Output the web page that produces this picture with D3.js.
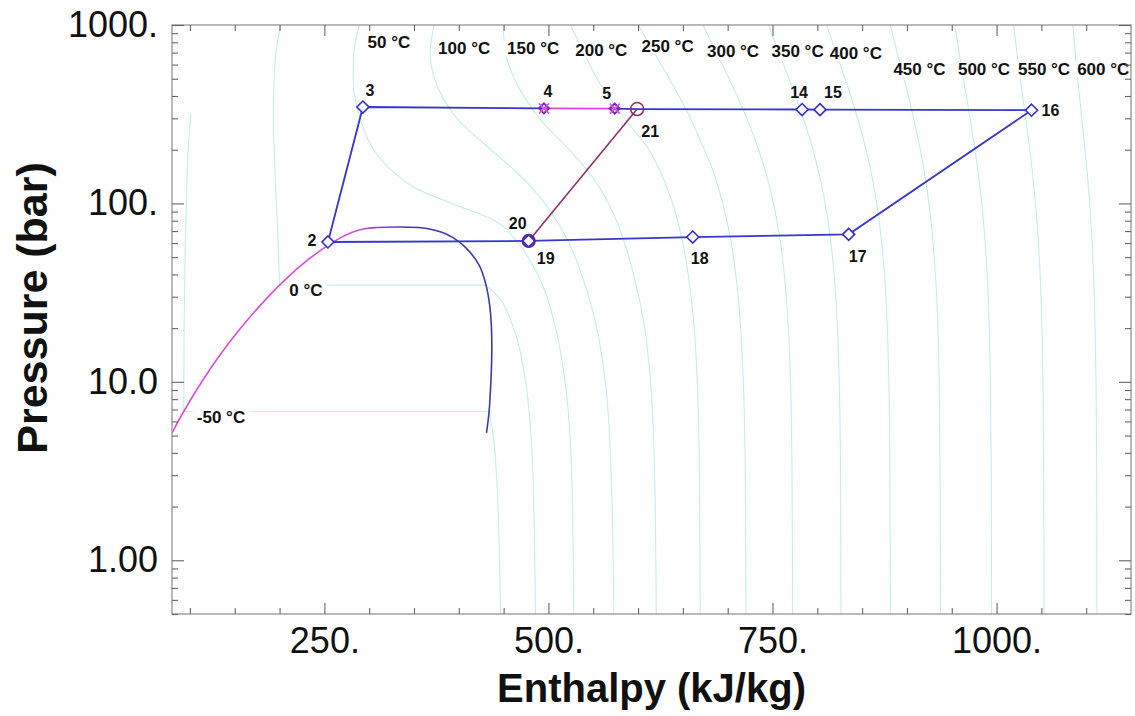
<!DOCTYPE html>
<html><head><meta charset="utf-8">
<script src="https://cdn.jsdelivr.net/npm/d3@7"></script>
<style>
html,body{margin:0;padding:0;background:#fff;}
svg{display:block;font-family:"Liberation Sans",Arial,Helvetica,sans-serif;}
</style></head><body>
<svg id="chart" width="1135" height="716"></svg>
<script>
// ---------------- DATA ----------------
const hTickValues = [250, 500, 750, 1000];
const hTickLabels = ["250.", "500.", "750.", "1000."];
const pTickValues = [1, 10, 100, 1000];
const pTickLabels = ["1.00", "10.0", "100.", "1000."];

// saturation dome (CO2), triple point -> critical point
const satP    = [5.18, 6.82, 10.05, 14.28, 19.70, 26.49, 34.85, 45.02, 57.29, 64.34, 68.93, 72.14, 73.27, 73.77];
const satHliq = [80.0, 93.1, 113.4, 134.1, 155.6, 177.5, 200.0, 224.0, 251.9, 268.4, 281.0, 295.0, 308.0, 332.3];
const satHvap = [430.9, 433.8, 435.8, 436.8, 436.5, 434.6, 430.4, 422.8, 406.6, 393.5, 381.0, 366.0, 355.0, 332.3];

// isotherms (enthalpy at each pressure)
const isoPressures = [1000, 700, 500, 300, 200, 150, 120, 100, 80, 60, 40, 20, 10, 3, 0.5];
const iso50  = [289, 283, 282, 290, 305, 327, 354, 392, 440, 466, 488, 508, 518.5, 526, 528.3];
const iso100 = [372.5, 368, 373, 398, 436, 464, 483, 496, 509, 523, 537, 554, 563.5, 570, 573];
const iso150 = [449.5, 452, 462, 490, 523, 545, 558, 567, 576, 585, 595, 607.5, 614, 618.5, 620.3];
const iso200 = [524.5, 539.5, 554.5, 584.5, 612, 625, 633, 638.5, 644, 650, 656, 662.7, 666, 668.5, 669.3];
const iso250 = [600.5, 618, 635, 658.5, 674, 684, 690, 694.5, 699, 704, 709, 714.5, 717.5, 719.6, 720.4];
const iso300 = [672.5, 687.3, 701.5, 721.3, 734.5, 742.3, 747.5, 751.1, 754.9, 759, 763.2, 767.7, 770.1, 771.8, 772.4];
const iso350 = [745.5, 757.2, 768.5, 784.3, 795.1, 801.5, 805.7, 808.7, 811.9, 815.2, 818.8, 822.5, 824.5, 825.9, 826.4];
const iso400 = [810.5, 821, 831, 845, 854.4, 860, 863.6, 866.2, 869, 871.8, 874.9, 878.1, 879.8, 881, 881.4];
const iso450 = [881.5, 889.1, 896.6, 907.4, 914.9, 919.4, 922.4, 924.5, 926.8, 929.2, 931.8, 934.6, 936, 937, 937.4];
const iso500 = [953.5, 958.2, 963, 970.4, 975.9, 979.4, 981.7, 983.5, 985.3, 987.3, 989.5, 991.9, 993.2, 994.1, 994.4];
const iso550 = [1019, 1022.7, 1026.5, 1032.5, 1037.1, 1040, 1042, 1043.4, 1045, 1046.8, 1048.6, 1050.7, 1051.8, 1052.6, 1053];
const iso600 = [1085, 1087.7, 1090.5, 1095.1, 1098.7, 1101, 1102.6, 1103.9, 1105.2, 1106.6, 1108.2, 1110, 1111, 1111.7, 1112];

// sub-critical isotherms: liquid branch, two-phase, vapour branch
const iso0LiqP  = [1000, 700, 500, 300, 200, 150, 100, 60, 34.85];
const iso0LiqH  = [201, 196, 194, 193, 194, 195, 196.5, 198.5, 200];
const iso0VapP  = [34.85, 30, 20, 10, 3, 0.5];
const iso0VapH  = [430.4, 444, 461, 474.5, 482.7, 485.5];
const isoM50LiqP = [320, 200, 100, 50, 20, 6.82];
const isoM50LiqH = [101, 98, 96, 94.5, 93.5, 93.1];
const isoM50VapP = [6.82, 5, 3, 1, 0.5];
const isoM50VapH = [433.8, 438.5, 442, 445.5, 446.5];

// isotherm labels
const isoLabelText = ["50 °C", "100 °C", "150 °C", "200 °C", "250 °C", "300 °C", "350 °C", "400 °C",
                      "450 °C", "500 °C", "550 °C", "600 °C", "0 °C", "-50 °C"];
const isoLabelH = [322, 406, 483, 559, 633, 706, 778, 843, 914, 986, 1053, 1119, 229.5, 134.7];
const isoLabelP = [803, 744, 744, 725, 763, 711, 711, 698, 568, 568, 568, 568, 32.7, 6.38];

// cycle state points
const pointId = ["2", "3", "4", "5", "21", "14", "15", "16", "17", "18", "19", "20"];
const pointH  = [254, 293, 495, 574, 599, 783, 803, 1039, 835, 661, 478, 478];
const pointP  = [60.8, 347, 341, 340, 338, 336, 335.5, 333, 67.1, 64.8, 61.6, 61.6];

// process lines (by point id)
const cycleMain = ["2", "3", "4"];
const cycleHot  = ["4", "5"];
const cycleRest = ["5", "21", "14", "15", "16", "17", "18", "19", "2"];
const cycleLink = ["20", "21"];

// ---------------- DRAWING ----------------
const svg = d3.select("#chart");
const plot = {left: 172, right: 1131, top: 25, bottom: 614};
const x = d3.scaleLinear().domain([80, 1150]).range([plot.left, plot.right]);
const y = d3.scaleLog().domain([0.5, 1000]).range([plot.bottom, plot.top]);

svg.append("defs").append("clipPath").attr("id", "clip")
  .append("rect").attr("x", plot.left).attr("y", plot.top)
  .attr("width", plot.right - plot.left).attr("height", plot.bottom - plot.top);

const grad = svg.select("defs").append("linearGradient").attr("id", "domeGrad")
  .attr("gradientUnits", "userSpaceOnUse")
  .attr("x1", x(285)).attr("x2", x(345)).attr("y1", 0).attr("y2", 0);
grad.append("stop").attr("offset", "0%").attr("stop-color", "#dc4cd6");
grad.append("stop").attr("offset", "100%").attr("stop-color", "#3a3aa8");

const g = svg.append("g").attr("clip-path", "url(#clip)");
const isoColor = "#c4eded";

const monoLine = d3.line().x(d => x(d[1])).y(d => y(d[0])).curve(d3.curveMonotoneY);
const zipPH = (P, Hs) => P.map((p, i) => [p, Hs[i]]);

const superIsos = [iso50, iso100, iso150, iso200, iso250, iso300, iso350, iso400, iso450, iso500, iso550, iso600];
superIsos.forEach(arr => {
  g.append("path").attr("d", monoLine(zipPH(isoPressures, arr)))
    .attr("fill", "none").attr("stroke", isoColor).attr("stroke-width", 1.1);
});
[[iso0LiqP, iso0LiqH], [iso0VapP, iso0VapH], [isoM50LiqP, isoM50LiqH], [isoM50VapP, isoM50VapH]].forEach(([P, Hs]) => {
  g.append("path").attr("d", monoLine(zipPH(P, Hs)))
    .attr("fill", "none").attr("stroke", isoColor).attr("stroke-width", 1.1);
});
// two-phase horizontals
[[iso0LiqP, iso0LiqH, iso0VapH], [isoM50LiqP, isoM50LiqH, isoM50VapH]].forEach(([P, L, V]) => {
  const p = P[P.length - 1];
  g.append("line").attr("x1", x(L[L.length - 1])).attr("x2", x(V[0]))
    .attr("y1", y(p)).attr("y2", y(p)).attr("stroke", isoColor).attr("stroke-width", 1.1);
});

// dome
const domePts = satP.map((p, i) => [p, satHliq[i]])
  .concat(satP.slice(0, -1).map((p, i) => [p, satHvap[i]]).reverse());
const domeLine = d3.line().x(d => x(d[1])).y(d => y(d[0])).curve(d3.curveCatmullRom.alpha(0.5));
g.append("path").attr("d", domeLine(domePts)).attr("fill", "none")
  .attr("stroke", "url(#domeGrad)").attr("stroke-width", 1.6);

// isotherm labels with white boxes
const labG = svg.append("g").attr("font-weight", "bold").attr("font-size", 17);
isoLabelText.forEach((t, i) => {
  const cx = x(isoLabelH[i]), cy = y(isoLabelP[i]);
  const tx = labG.append("text").attr("x", cx).attr("y", cy).attr("text-anchor", "middle")
    .attr("dy", "0.35em").attr("fill", "#111").text(t);
  const bb = tx.node().getBBox();
  labG.insert("rect", "text").attr("x", bb.x - 4).attr("y", bb.y + 2)
    .attr("width", bb.width + 8).attr("height", bb.height - 4).attr("fill", "#fff");
});

// cycle lines
const byId = id => { const i = pointId.indexOf(id); return [pointP[i], pointH[i]]; };
const lin = d3.line().x(d => x(d[1])).y(d => y(d[0]));
const cg = svg.append("g").attr("clip-path", "url(#clip)");
const blue = "#3636cc";
cg.append("path").attr("d", lin(cycleMain.map(byId))).attr("fill", "none").attr("stroke", blue).attr("stroke-width", 1.8);
cg.append("path").attr("d", lin(cycleRest.map(byId))).attr("fill", "none").attr("stroke", blue).attr("stroke-width", 1.8);
cg.append("path").attr("d", lin(cycleHot.map(byId))).attr("fill", "none").attr("stroke", "#d848d8").attr("stroke-width", 1.8);
cg.append("path").attr("d", lin(cycleLink.map(byId))).attr("fill", "none").attr("stroke", "#8c2f6e").attr("stroke-width", 1.6);

// markers
const markerStyle = {"2":"d","3":"d","4":"dx","5":"dx","21":"c","14":"d","15":"d","16":"d","17":"d","18":"d","19":"d","20":"c2"};
const diamond = "M0,-6L6,0L0,6L-6,0Z";
pointId.forEach((id, i) => {
  const px = x(pointH[i]), py = y(pointP[i]);
  const s = markerStyle[id];
  const mg = cg.append("g").attr("transform", `translate(${px},${py})`);
  if (s === "d") {
    mg.append("path").attr("d", diamond).attr("fill", "#fff").attr("stroke", "#3030c8").attr("stroke-width", 1.6);
  } else if (s === "dx") {
    mg.append("path").attr("d", "M0,-5L5,0L0,5L-5,0Z").attr("fill", "none").attr("stroke", "#6a2ad0").attr("stroke-width", 2);
    mg.append("path").attr("d", "M-5,-5L5,5M-5,5L5,-5").attr("stroke", "#e050e0").attr("stroke-width", 1.6);
  } else if (s === "c") {
    mg.append("circle").attr("r", 6.5).attr("fill", "none").attr("stroke", "#8a3068").attr("stroke-width", 1.6);
  } else {
    mg.append("circle").attr("r", 6).attr("fill", "none").attr("stroke", "#5a22a8").attr("stroke-width", 2.2);
  }
});

// point labels
const labelOffset = {"2":[-16,-2],"3":[7,-17],"4":[4,-17],"5":[-8,-15],"14":[-3,-17],"15":[13,-17],
  "16":[19,0],"17":[9,22],"18":[7,21],"19":[17,17],"20":[-11,-18],"21":[13,22]};
const plg = svg.append("g").attr("font-weight", "bold").attr("font-size", 16).attr("fill", "#111");
pointId.forEach((id, i) => {
  const o = labelOffset[id];
  plg.append("text").attr("x", x(pointH[i]) + o[0]).attr("y", y(pointP[i]) + o[1])
    .attr("text-anchor", "middle").attr("dy", "0.35em").text(id);
});

// frame
svg.append("rect").attr("x", plot.left).attr("y", plot.top)
  .attr("width", plot.right - plot.left).attr("height", plot.bottom - plot.top)
  .attr("fill", "none").attr("stroke", "#8a8a8a").attr("stroke-width", 1.2);

// axes
const hMinor = d3.range(100, 1101, 50).filter(v => !hTickValues.includes(v));
const pMinor = [];
[0.1, 1, 10, 100].forEach(dec => { for (let k = 2; k <= 9; k++) { const v = k * dec; if (v >= 0.5 && v < 1000) pMinor.push(v); } });

function styleAxis(sel) {
  sel.select(".domain").remove();
  sel.selectAll(".tick line").attr("stroke", "#666").attr("stroke-width", 1.1);
  sel.selectAll("text").attr("fill", "#111").attr("font-size", 36).attr("font-family", "'Liberation Sans', Arial, sans-serif");
}
const fmtH = v => hTickLabels[hTickValues.indexOf(v)];
const fmtP = v => pTickLabels[pTickValues.indexOf(v)];

svg.append("g").attr("transform", `translate(0,${plot.bottom})`)
  .call(d3.axisBottom(x).tickValues(hTickValues).tickFormat(fmtH).tickSize(-11).tickPadding(13)).call(styleAxis);
svg.append("g").attr("transform", `translate(0,${plot.bottom})`)
  .call(d3.axisBottom(x).tickValues(hMinor).tickFormat("").tickSize(-6)).call(styleAxis);
svg.append("g").attr("transform", `translate(0,${plot.top})`)
  .call(d3.axisTop(x).tickValues(hTickValues).tickFormat("").tickSize(-11)).call(styleAxis);
svg.append("g").attr("transform", `translate(0,${plot.top})`)
  .call(d3.axisTop(x).tickValues(hMinor).tickFormat("").tickSize(-6)).call(styleAxis);

svg.append("g").attr("transform", `translate(${plot.left},0)`)
  .call(d3.axisLeft(y).tickValues(pTickValues).tickFormat(fmtP).tickSize(-12).tickPadding(14)).call(styleAxis);
svg.append("g").attr("transform", `translate(${plot.left},0)`)
  .call(d3.axisLeft(y).tickValues(pMinor).tickFormat("").tickSize(-6)).call(styleAxis);
svg.append("g").attr("transform", `translate(${plot.right},0)`)
  .call(d3.axisRight(y).tickValues(pTickValues).tickFormat("").tickSize(-12)).call(styleAxis);
svg.append("g").attr("transform", `translate(${plot.right},0)`)
  .call(d3.axisRight(y).tickValues(pMinor).tickFormat("").tickSize(-6)).call(styleAxis);

// titles
svg.append("text").attr("x", (plot.left + plot.right) / 2).attr("y", 702)
  .attr("text-anchor", "middle").attr("font-weight", "bold").attr("font-size", 40).attr("fill", "#111")
  .text("Enthalpy (kJ/kg)");
svg.append("text").attr("transform", `translate(47,308) rotate(-90)`)
  .attr("text-anchor", "middle").attr("font-weight", "bold").attr("font-size", 43).attr("fill", "#111")
  .text("Pressure (bar)");
</script>
</body></html>
